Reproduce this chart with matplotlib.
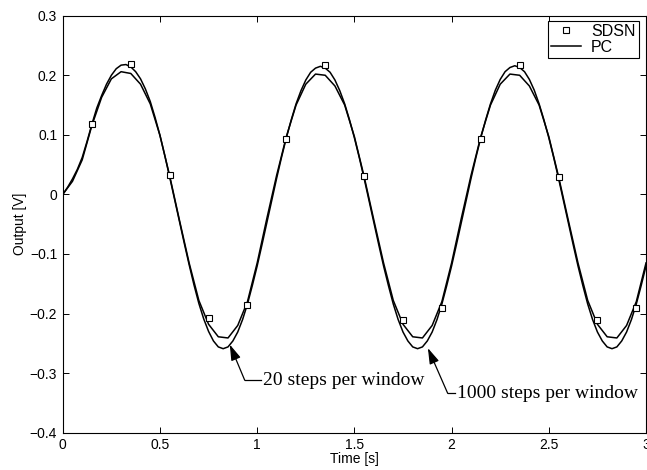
import numpy as np
import matplotlib
matplotlib.use("Agg")
from matplotlib import pyplot as plt
from matplotlib.ticker import FuncFormatter, MultipleLocator

# PC, 1000 steps per window (sampled every 0.025 s)
pc_fine = [
    0.000, 0.012, 0.026, 0.042, 0.062, 0.089, 0.118, 0.145, 0.166, 0.185,
    0.200, 0.211, 0.217, 0.218, 0.214, 0.206, 0.194, 0.177, 0.156, 0.129,
    0.099, 0.065, 0.029, -0.008, -0.045, -0.082, -0.118, -0.152, -0.183, -0.209,
    -0.230, -0.246, -0.256, -0.259, -0.256, -0.246, -0.231, -0.210, -0.184, -0.153,
    -0.120, -0.084, -0.047, -0.010, 0.027, 0.062, 0.095, 0.125, 0.152, 0.174,
    0.192, 0.205, 0.212, 0.215, 0.212, 0.205, 0.192, 0.174, 0.152, 0.125,
    0.095, 0.062, 0.027, -0.010, -0.047, -0.084, -0.120, -0.153, -0.184, -0.210,
    -0.231, -0.246, -0.256, -0.259, -0.256, -0.246, -0.231, -0.210, -0.184, -0.153,
    -0.120, -0.084, -0.047, -0.010, 0.027, 0.062, 0.095, 0.125, 0.152, 0.175,
    0.193, 0.206, 0.213, 0.216, 0.213, 0.206, 0.193, 0.175, 0.152, 0.125,
    0.095, 0.062, 0.027, -0.010, -0.047, -0.084, -0.120, -0.153, -0.184, -0.210,
    -0.231, -0.246, -0.256, -0.259, -0.256, -0.246, -0.231, -0.210, -0.184, -0.153,
    -0.120,
]
t_fine = np.linspace(0, 3, len(pc_fine))

# PC, 20 steps per window (sampled every 0.05 s)
pc_coarse = [
    0.000, 0.022, 0.058, 0.116, 0.163, 0.194, 0.206, 0.203, 0.185, 0.152,
    0.099, 0.031, -0.043, -0.115, -0.178, -0.218, -0.239, -0.241, -0.220, -0.180,
    -0.115, -0.040, 0.032, 0.097, 0.150, 0.185, 0.202, 0.200, 0.182, 0.150,
    0.097, 0.030, -0.043, -0.115, -0.178, -0.218, -0.239, -0.241, -0.220, -0.180,
    -0.115, -0.040, 0.032, 0.097, 0.150, 0.185, 0.202, 0.200, 0.182, 0.150,
    0.097, 0.030, -0.043, -0.115, -0.178, -0.218, -0.239, -0.241, -0.220, -0.180,
    -0.115,
]
t_coarse = np.linspace(0, 3, len(pc_coarse))

# SDSN samples
t_sdsn = [0.15, 0.35, 0.55, 0.75, 0.95, 1.15, 1.35, 1.55, 1.75, 1.95,
          2.15, 2.35, 2.55, 2.75, 2.95]
y_sdsn = [0.118, 0.219, 0.032, -0.208, -0.185, 0.093, 0.217, 0.031, -0.211, -0.191,
          0.093, 0.217, 0.030, -0.211, -0.190]

plt.rcParams["font.family"] = ["Liberation Sans", "DejaVu Sans"]
plt.rcParams["font.size"] = 10

fig = plt.figure(figsize=(6.47, 4.70), dpi=100)
ax = fig.add_axes([0.097, 0.0794, 0.9015, 0.8872])

ax.plot(t_fine, pc_fine, color="black", lw=1.1)
ax.plot(t_coarse, pc_coarse, color="black", lw=1.1, label="PC")
ax.plot(t_sdsn, y_sdsn, ls="none", marker="s", ms=4, mew=0.8,
        mfc="white", mec="black", label="SDSN")

ax.set_xlim(0, 3)
ax.set_ylim(-0.4, 0.3)
ax.xaxis.set_major_locator(MultipleLocator(0.5))
ax.yaxis.set_major_locator(MultipleLocator(0.1))
fmt = FuncFormatter(lambda v, p: ("%g" % round(v, 3)).replace("-", "\u2212"))
ax.xaxis.set_major_formatter(fmt)
ax.yaxis.set_major_formatter(fmt)
ax.tick_params(direction="in", length=4.5, width=0.7, top=True, right=True,
               pad=4, labelsize=10)
for s in ax.spines.values():
    s.set_linewidth(0.8)

ax.set_xlabel("Time [s]", labelpad=0)
ax.set_ylabel("Output [V]", labelpad=2)

handles, labels = ax.get_legend_handles_labels()
leg = ax.legend(handles[::-1], labels[::-1], loc="upper right",
                bbox_to_anchor=(0.9873, 0.988), borderaxespad=0,
                fontsize=11.5, frameon=True, fancybox=False, edgecolor="black",
                borderpad=0.2, labelspacing=0.05, handlelength=1.9,
                handletextpad=0.6, framealpha=1)
leg.get_frame().set_linewidth(0.8)

serif = ["Liberation Serif", "DejaVu Serif"]
head = "-|>,head_length=0.8,head_width=0.25"

# 20 steps per window
ax.annotate("", xy=(0.859, -0.252), xytext=(0.936, -0.312),
            arrowprops=dict(arrowstyle=head, color="black", lw=0.9,
                            mutation_scale=12, shrinkA=0, shrinkB=0))
ax.plot([0.936, 1.02], [-0.312, -0.312], color="black", lw=0.9)
ax.text(1.029, -0.312, "20 steps per window", family=serif, fontsize=14,
        ha="left", va="center")

# 1000 steps per window
ax.annotate("", xy=(1.878, -0.258), xytext=(1.980, -0.334),
            arrowprops=dict(arrowstyle=head, color="black", lw=0.9,
                            mutation_scale=12, shrinkA=0, shrinkB=0))
ax.plot([1.980, 2.02], [-0.334, -0.334], color="black", lw=0.9)
ax.text(2.027, -0.334, "1000 steps per window", family=serif, fontsize=14,
        ha="left", va="center")

fig.savefig("out.png", dpi=100)
